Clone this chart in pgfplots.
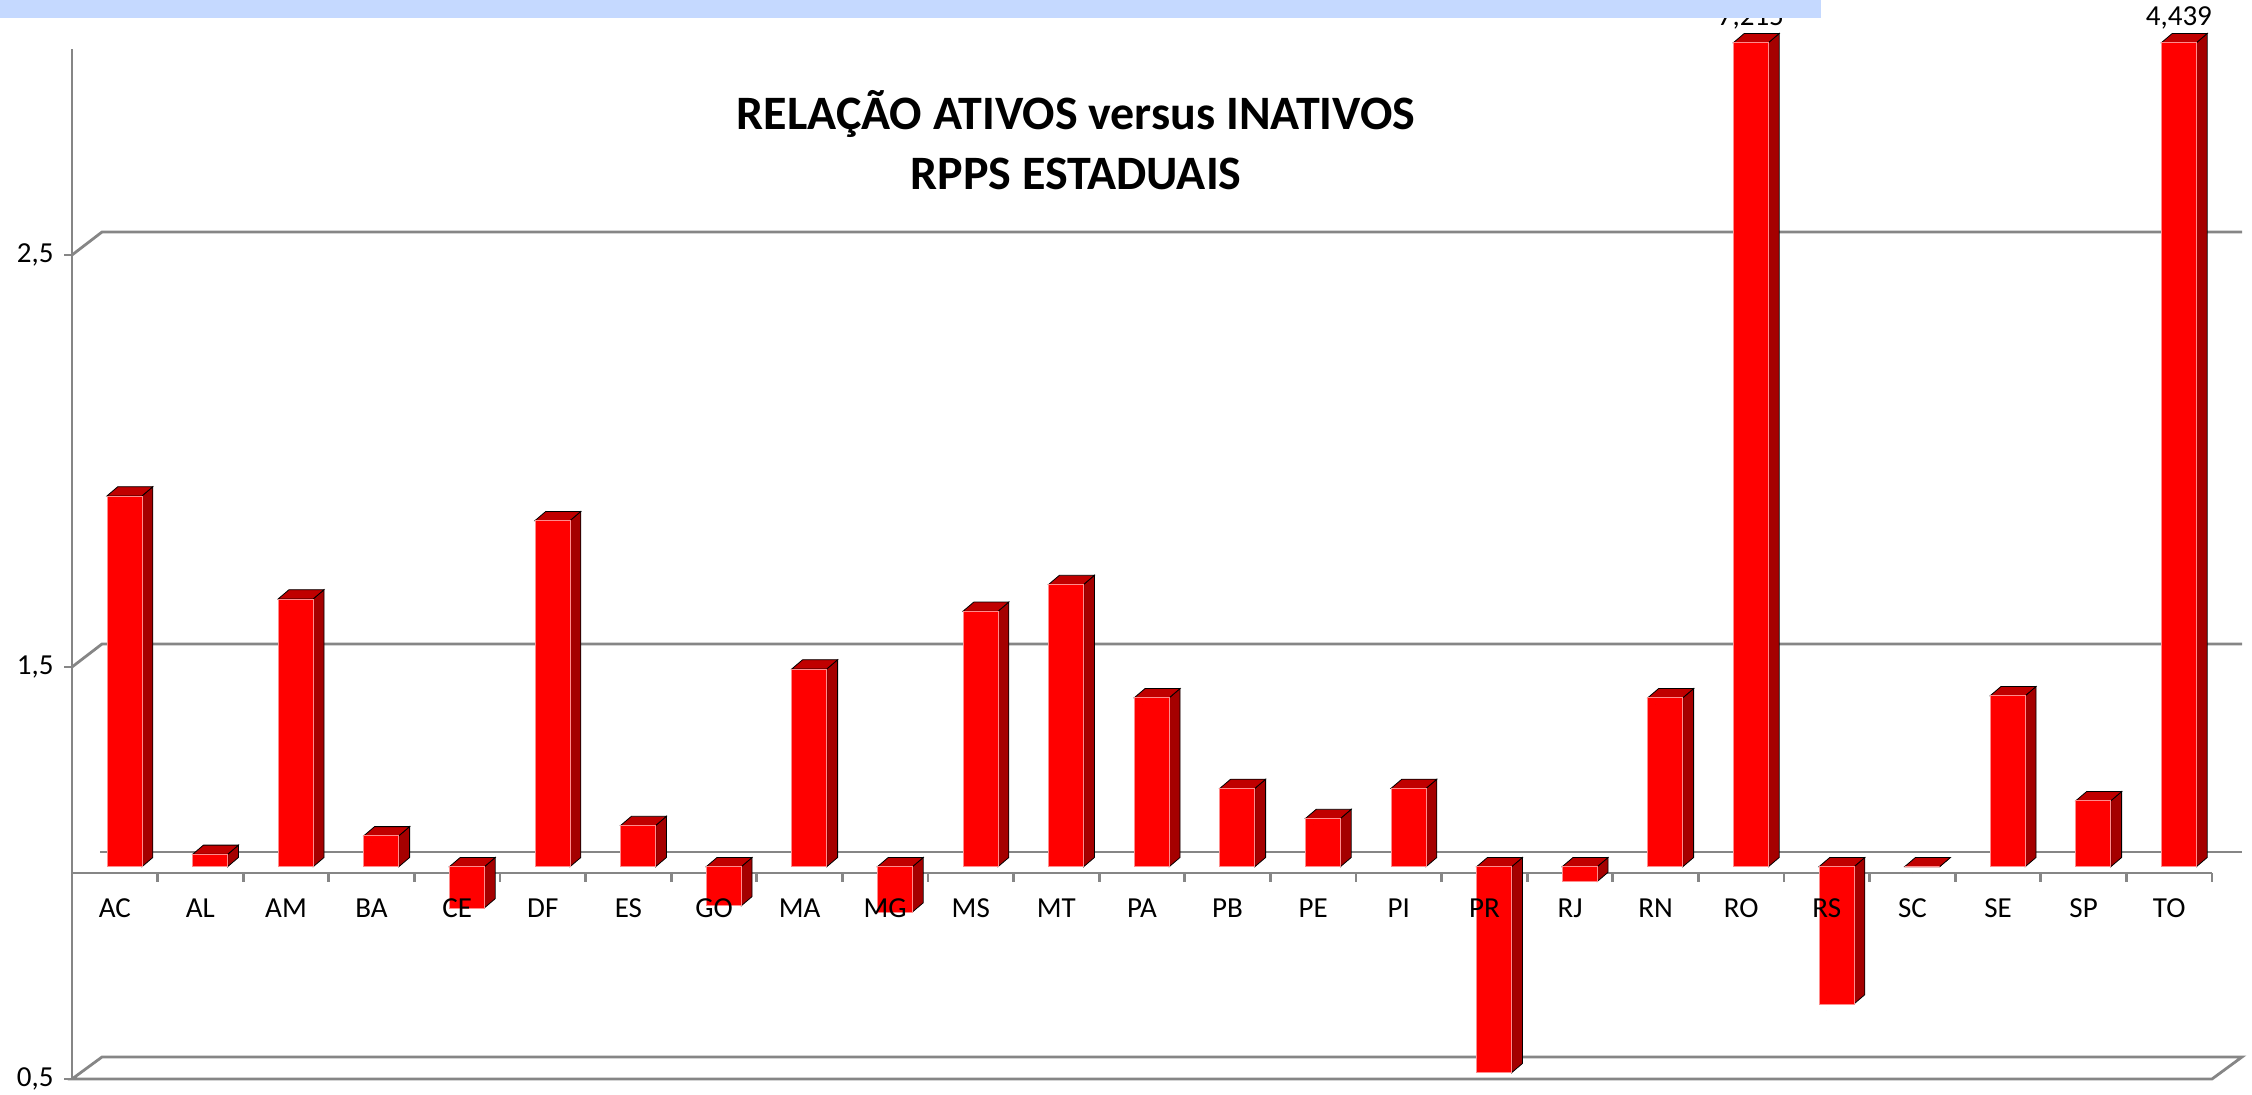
\documentclass[border=0pt]{standalone}
\usepackage{fontspec}
\setmainfont{Carlito}
\usepackage{pgfplots}
\usepackage{pgfplotstable}
\pgfplotsset{compat=1.18}

\definecolor{barfront}{RGB}{255,0,0}
\definecolor{baredge}{RGB}{255,140,140}
\definecolor{barside}{RGB}{165,0,0}
\definecolor{bartop}{RGB}{192,0,0}
\definecolor{gridgray}{RGB}{134,134,134}
\definecolor{topband}{RGB}{197,217,255}

% ratio of active to inactive members, state pension schemes
\pgfplotstableread{
idx uf ratio
0  AC 1.90
1  AL 1.03
2  AM 1.65
3  BA 1.075
4  CE 0.90
5  DF 1.84
6  ES 1.10
7  GO 0.905
8  MA 1.48
9  MG 0.89
10 MS 1.62
11 MT 1.685
12 PA 1.41
13 PB 1.19
14 PE 1.117
15 PI 1.19
16 PR 0.50
17 RJ 0.964
18 RN 1.41
19 RO 7.215
20 RS 0.667
21 SC 1.00
22 SE 1.415
23 SP 1.16
24 TO 4.439
}\ratios

\begin{document}
\begin{tikzpicture}
\begin{axis}[
  at={(0,0)}, anchor=south west,
  scale only axis, width=1070pt, height=515pt,
  xmin=-0.5, xmax=24.5, ymin=0.5, ymax=3.0,
  clip=false, set layers=axis on top,
  axis line style={draw=none},
  xtick={0,...,24},
  xticklabels={AC,AL,AM,BA,CE,DF,ES,GO,MA,MG,MS,MT,PA,PB,PE,PI,PR,RJ,RN,RO,RS,SC,SE,SP,TO},
  xtick style={draw=none},
  ytick={0.5,1.5,2.5}, yticklabels={{0,5},{1,5},{2,5}},
  ytick pos=left,
  ytick style={gridgray, line width=1.4pt},
  tick align=outside, major tick length=4pt,
  ticklabel style={font=\fontsize{14.5}{17}\selectfont, text=black},
  xticklabel style={anchor=center, yshift=89.25pt},
  yticklabel style={anchor=east, inner sep=0pt, xshift=-5pt},
  /pgf/number format/assume math mode=true,
]

% back wall gridlines and floor
\draw[gridgray, line width=1.4pt]
  (axis cs:-0.5,1.5) -- ([shift={(15pt,11.5pt)}]axis cs:-0.5,1.5) -- ([shift={(15pt,11.5pt)}]axis cs:24.5,1.5);
\draw[gridgray, line width=1.4pt]
  (axis cs:-0.5,2.5) -- ([shift={(15pt,11.5pt)}]axis cs:-0.5,2.5) -- ([shift={(15pt,11.5pt)}]axis cs:24.5,2.5);
\draw[gridgray, line width=1.4pt]
  ([shift={(14pt,10.5pt)}]axis cs:-0.5,1) -- ([shift={(15pt,10.5pt)}]axis cs:24.5,1);
\draw[gridgray, line width=1.4pt]
  (axis cs:-0.5,0.5) -- (axis cs:24.5,0.5) -- ([shift={(15pt,11pt)}]axis cs:24.5,0.5)
  -- ([shift={(15pt,11pt)}]axis cs:-0.5,0.5) -- cycle;

% 3d bars, base at 1, capped at the top of the axis
\addplot[only marks, scatter, mark=*, mark size=0pt, mark options={draw=none, fill=none},
  y filter/.expression={min(y,3)},
  visualization depends on={\thisrow{ratio} \as \barval},
  scatter/@pre marker code/.code={%
    \pgfmathsetmacro\barcap{min(\barval,3)}%
    \pgfmathsetmacro\barlow{1-\barcap}%
    \pgfmathsetmacro\bartopy{max(0,\barlow)}%
    \path[fill=barside] ([xshift=13.6pt,yshift=3.15pt]axis direction cs:0,0)
      -- ([xshift=13.6pt,yshift=3.15pt]axis direction cs:0,\barlow)
      -- ([xshift=19pt,yshift=7.75pt]axis direction cs:0,\barlow)
      -- ([xshift=19pt,yshift=7.75pt]axis direction cs:0,0) -- cycle;
    \path[fill=bartop] ([xshift=-3.9pt,yshift=3.15pt]axis direction cs:0,\bartopy)
      -- ([xshift=13.6pt,yshift=3.15pt]axis direction cs:0,\bartopy)
      -- ([xshift=19pt,yshift=7.75pt]axis direction cs:0,\bartopy)
      -- ([xshift=1.5pt,yshift=7.75pt]axis direction cs:0,\bartopy) -- cycle;
    \path[fill=barfront, draw=baredge, line width=0.4pt] ([xshift=-3.9pt,yshift=3.15pt]axis direction cs:0,0)
      rectangle ([xshift=13.6pt,yshift=3.15pt]axis direction cs:0,\barlow);
  },
  scatter/@post marker code/.code={},
] table[x=idx, y=ratio] {\ratios};

% value labels for the two bars cut off at the top (RO, TO)
\addplot[draw=none, mark=none,
  skip coords between index={0}{19},
  skip coords between index={20}{24},
  y filter/.expression={min(y,3)},
  point meta=\thisrow{ratio},
  nodes near coords={\pgfmathprintnumber[fixed, precision=3, use comma]{\pgfplotspointmeta}},
  nodes near coords style={anchor=center, font=\fontsize{14.5}{17}\selectfont, xshift=4.85pt, yshift=15.6pt},
] table[x=idx, y=ratio] {\ratios};

% front category axis at 1 and the vertical axis
\draw[gridgray, line width=1.4pt] (axis cs:-0.5,1) -- (axis cs:24.5,1);
\pgfplotsinvokeforeach{0,...,24}{
  \draw[gridgray, line width=1.4pt] (axis cs:#1+0.5,1) -- ([yshift=-4.5pt]axis cs:#1+0.5,1);
}
\draw[gridgray, line width=1.4pt] (axis cs:-0.5,0.5) -- (axis cs:-0.5,3);

\node[align=center, font=\bfseries\fontsize{24}{30}\selectfont]
  at (rel axis cs:0.4692,0.9117) {RELAÇÃO ATIVOS versus INATIVOS\\RPPS ESTADUAIS};
\end{axis}

\fill[topband] (-36pt,530.5pt) rectangle (874.5pt,539.5pt);
\pgfresetboundingbox
\path[use as bounding box] (-36pt,-7.5pt) rectangle (1090pt,539.5pt);
\end{tikzpicture}
\end{document}
